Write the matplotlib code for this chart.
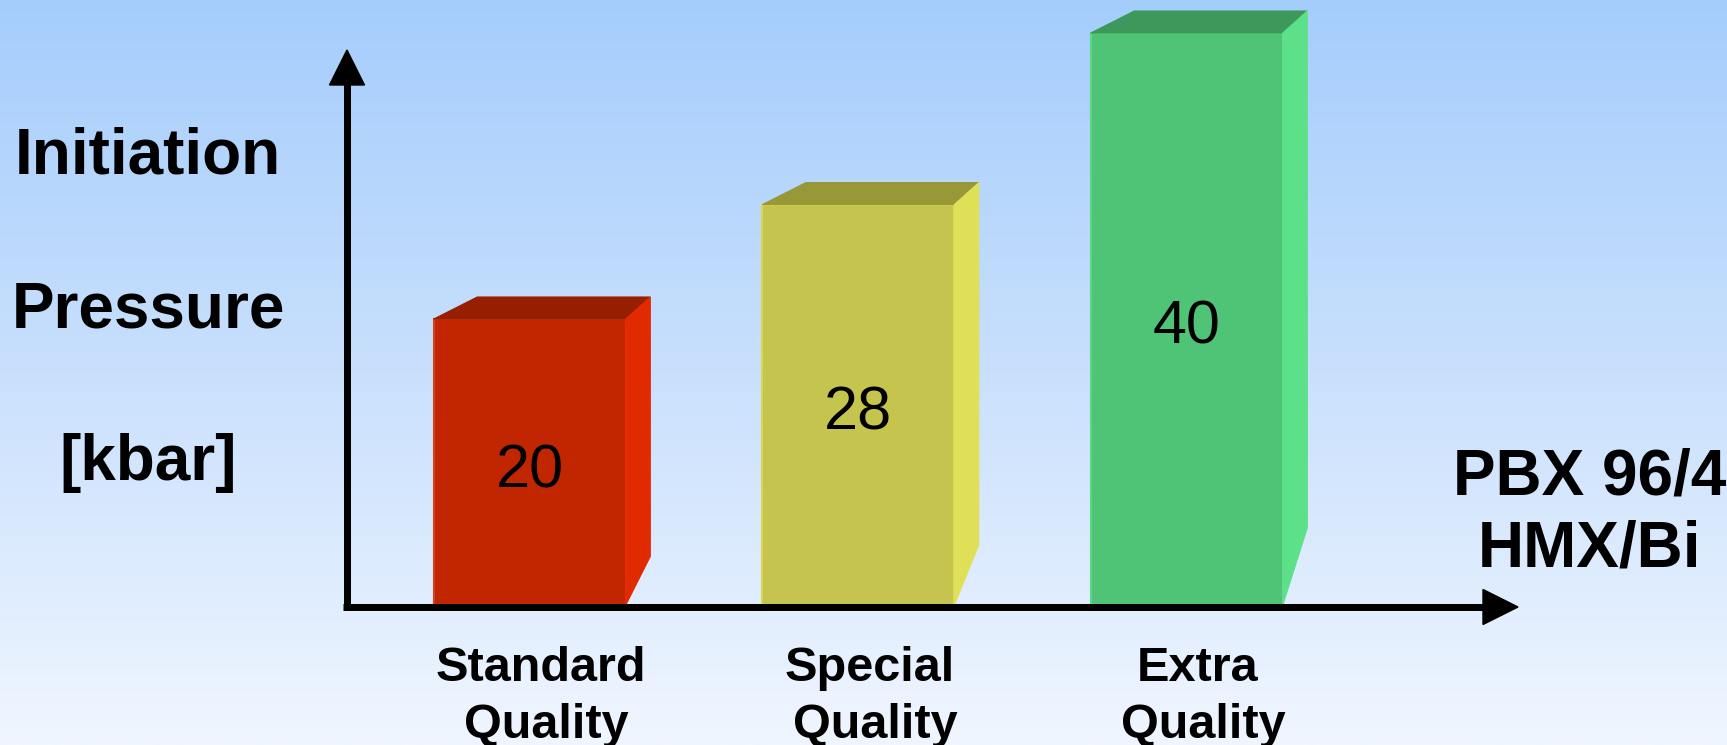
import numpy as np
import matplotlib
matplotlib.use("Agg")
import matplotlib.pyplot as plt
from matplotlib.patches import Polygon
from matplotlib.colors import LinearSegmentedColormap

# ---------------- data ----------------
categories = ["Standard Quality", "Special Quality", "Extra Quality"]
values = [20, 28, 40]
value_labels = ["20", "28", "40"]
ylabel_lines = ["Initiation", "Pressure", "[kbar]"]
note_lines = ["PBX 96/4", "HMX/Bi"]

front_colors = ["#c22600", "#c4c44f", "#4fc476"]
edge_colors = ["#d6401c", "#d8d850", "#5cd683"]
top_colors = ["#981e00", "#989838", "#3d985c"]
side_colors = ["#e12a00", "#e0e058", "#5ce088"]

# ---------------- figure ----------------
W, H = 1727, 745
fig = plt.figure(figsize=(W / 100, H / 100), dpi=100)
ax = fig.add_axes([0, 0, 1, 1])

x0_px, xstep_px = 529.8, 328.5      # pixel position of first bar, bar spacing
base_px, ystep_px = 605.0, 14.3     # baseline (from top), pixels per kbar
ax.set_xlim(-x0_px / xstep_px, (W - x0_px) / xstep_px)
ax.set_ylim(-(H - base_px) / ystep_px, base_px / ystep_px)
ax.axis("off")

def dx(p):
    return p / xstep_px

def dy(p):
    return p / ystep_px

# background gradient
cmap = LinearSegmentedColormap.from_list("bg", ["#a5cdfc", "#c9e0fd", "#f0f6ff"])
grad = np.linspace(0, 1, 512).reshape(-1, 1)
xl, xr_ = ax.get_xlim()
yb, yt = ax.get_ylim()
ax.imshow(grad, extent=[xl, xr_, yb, yt], aspect="auto", cmap=cmap,
          origin="upper", zorder=0, interpolation="bicubic")

font = "Liberation Sans"

# ---------------- bars ----------------
bar_w = dx(192)
depth_l, depth_r, depth_up = dx(43.5), dx(24.5), dy(22)
x_pos = np.arange(len(values))
for i, (x, v) in enumerate(zip(x_pos, values)):
    left, right = x - bar_w / 2, x + bar_w / 2
    ax.add_patch(Polygon([(left, 0), (right, 0), (right, v), (left, v)],
                         closed=True, facecolor=front_colors[i],
                         edgecolor=edge_colors[i], lw=1.5, zorder=2))
    ax.add_patch(Polygon([(left, v), (left + depth_l, v + depth_up),
                          (right + depth_r, v + depth_up), (right, v)],
                         closed=True, facecolor=top_colors[i],
                         edgecolor=top_colors[i], lw=0.8, zorder=2))
    cut = dy(20) + 0.1 * v
    ax.add_patch(Polygon([(right, v), (right + depth_r, v + depth_up),
                          (right + depth_r, cut), (right, 0)],
                         closed=True, facecolor=side_colors[i],
                         edgecolor=side_colors[i], lw=0.8, zorder=2))
    ax.annotate(value_labels[i], xy=(x, v / 2), xytext=(0, -18),
                textcoords="offset points", ha="center", va="baseline",
                fontsize=44, family=font, color="black", zorder=3)

# ---------------- axes arrows ----------------
ax_x = -0.5565
lw_pt = 7 * 72 / 100
y_top = dy(555)
x_end = dx(1518 - x0_px)
ax.plot([ax_x, ax_x], [0, y_top - dy(30)], color="black", lw=lw_pt,
        solid_capstyle="butt", zorder=4)
ax.plot([ax_x - dx(3.5), x_end - dx(30)], [-dy(2), -dy(2)], color="black", lw=lw_pt,
        solid_capstyle="butt", zorder=4)
ax.add_patch(Polygon([(ax_x - dx(17.5), y_top - dy(35)), (ax_x + dx(17.5), y_top - dy(35)),
                      (ax_x, y_top)], closed=True, color="black", zorder=4))
ax.add_patch(Polygon([(x_end - dx(35), dy(15.5)), (x_end - dx(35), -dy(19.5)),
                      (x_end, -dy(2))], closed=True, color="black", zorder=4))

# ---------------- texts ----------------
def px_text(xp, yp_top, s, **kw):
    ax.text(dx(xp - x0_px), (base_px - yp_top) / ystep_px, s, **kw)

for s, yb_px in zip(ylabel_lines, [174, 327, 480]):
    px_text(148, yb_px, s, ha="center", va="baseline", fontsize=46,
            fontweight="bold", family=font, zorder=5)

for s, yb_px in zip(note_lines, [494, 567]):
    px_text(1590, yb_px, s, ha="center", va="baseline", fontsize=46,
            fontweight="bold", family=font, zorder=5)

for x, cat in zip(x_pos, categories):
    first, second = cat.split(" ")
    ax.annotate(first, xy=(x, 0), xytext=(8, -55), textcoords="offset points",
                ha="center", va="baseline", fontsize=35, fontweight="bold",
                family=font, zorder=5, annotation_clip=False)
    ax.annotate(second, xy=(x, 0), xytext=(12, -96), textcoords="offset points",
                ha="center", va="baseline", fontsize=35, fontweight="bold",
                family=font, zorder=5, annotation_clip=False)

fig.savefig("out.png", dpi=100)
